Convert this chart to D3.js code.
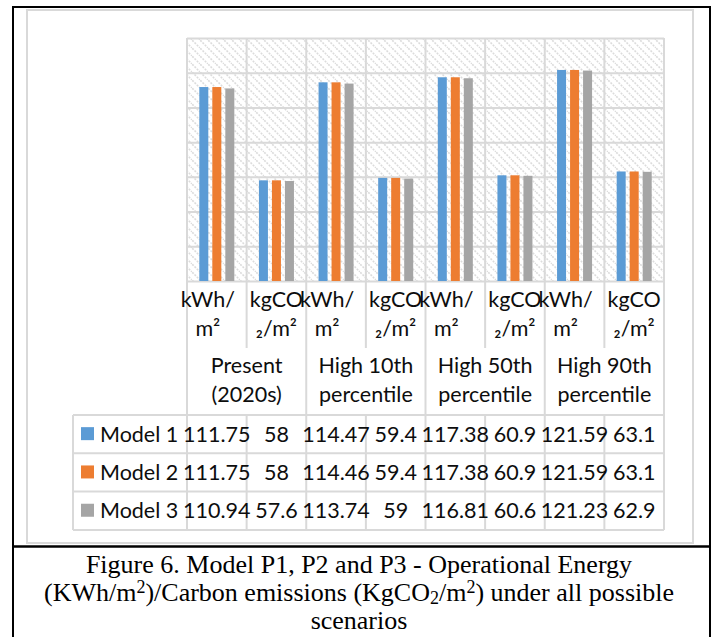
<!DOCTYPE html>
<html>
<head>
<meta charset="utf-8">
<script src="https://cdn.jsdelivr.net/npm/d3@7"></script>
<style>
  html, body { margin: 0; padding: 0; background: #fff; }
  svg { display: block; }
  .lbl { font-family: Lato, "Open Sans", sans-serif; font-size: 21.5px; fill: #0d0d0d; }
  .cap { font-family: "Liberation Serif", "Times New Roman", serif; font-size: 26px; fill: #000; }
</style>
</head>
<body>
<svg id="chart" width="715" height="637"></svg>
<script>
// ---- data ----
const scenarios = ["Present (2020s)", "High 10th percentile", "High 50th percentile", "High 90th percentile"];
const scenarioLines = [["Present", "(2020s)"], ["High 10th", "percentile"], ["High 50th", "percentile"], ["High 90th", "percentile"]];
const units = ["kWh/m²", "kgCO₂/m²"];
const unitLines = [["kWh/", "m²"], ["kgCO", "₂/m²"]];
const models = ["Model 1", "Model 2", "Model 3"];
const model1 = [111.75, 58, 114.47, 59.4, 117.38, 60.9, 121.59, 63.1];
const model2 = [111.75, 58, 114.46, 59.4, 117.38, 60.9, 121.59, 63.1];
const model3 = [110.94, 57.6, 113.74, 59, 116.81, 60.6, 121.23, 62.9];
const yTicks = [0, 20, 40, 60, 80, 100, 120, 140];
const colors = ["#5B9BD5", "#ED7D31", "#A5A5A5"];

const series = [model1, model2, model3];
const columns = [];
scenarios.forEach((s, si) => units.forEach((u, ui) => columns.push({ key: s + "|" + u, si, ui })));

// ---- layout ----
const svg = d3.select("#chart");
const plot = { left: 187, right: 664, top: 38, bottom: 281 };
const unitRowBottom = 348;
const tableTop = 415, rowH = 38.3;
const tableBottom = tableTop + rowH * 3;
const tableLeft = 73;
const gridColor = "#d9d9d9";

const x = d3.scaleBand().domain(columns.map(c => c.key)).range([plot.left, plot.right]).padding(0);
const xi = d3.scaleBand().domain(models).range([0, x.bandwidth()]).paddingInner(4 / 13).paddingOuter(0.946);
const y = d3.scaleLinear().domain([0, 140]).range([plot.bottom, plot.top]);

// hatch fill of the plot area
const defs = svg.append("defs");
const pat = defs.append("pattern").attr("id", "hatch").attr("patternUnits", "userSpaceOnUse")
  .attr("width", 8).attr("height", 8);
pat.append("rect").attr("width", 8).attr("height", 8).attr("fill", "#fff");
pat.append("path").attr("d", "M-2,-2L10,10M-2,6L2,10M6,-2L10,2")
  .attr("stroke", "#dcdcdc").attr("stroke-width", 1.6).attr("stroke-dasharray", "2,1.2");

// outer frame and chart border
svg.append("rect").attr("x", 13).attr("y", 7).attr("width", 697).attr("height", 640)
  .attr("fill", "none").attr("stroke", "#000").attr("stroke-width", 2);
svg.append("rect").attr("x", 27).attr("y", 10).attr("width", 666).attr("height", 533)
  .attr("fill", "#fff").attr("stroke", gridColor).attr("stroke-width", 2);
svg.append("line").attr("x1", 13).attr("x2", 710).attr("y1", 546.5).attr("y2", 546.5)
  .attr("stroke", "#000").attr("stroke-width", 2.5);

svg.append("rect").attr("x", plot.left).attr("y", plot.top)
  .attr("width", plot.right - plot.left).attr("height", plot.bottom - plot.top)
  .attr("fill", "url(#hatch)");

// horizontal gridlines
const yAxis = d3.axisLeft(y).tickValues(yTicks).tickSize(-(plot.right - plot.left)).tickFormat("");
const gy = svg.append("g").attr("transform", `translate(${plot.left},0)`).call(yAxis);
gy.select(".domain").remove();
gy.selectAll("line").attr("stroke", gridColor).attr("stroke-width", 2);

// vertical column boundaries (plot, category axis and data table)
const bounds = columns.map(c => x(c.key)).concat([plot.right]);
bounds.forEach((bx, i) => {
  const major = i % 2 === 0;
  svg.append("line").attr("x1", bx).attr("x2", bx).attr("y1", plot.top)
    .attr("y2", major ? tableBottom : unitRowBottom)
    .attr("stroke", gridColor).attr("stroke-width", 2);
  if (!major) {
    svg.append("line").attr("x1", bx).attr("x2", bx).attr("y1", tableTop).attr("y2", tableBottom)
      .attr("stroke", gridColor).attr("stroke-width", 2);
  }
});

// data table frame
svg.append("line").attr("x1", tableLeft).attr("x2", tableLeft).attr("y1", tableTop).attr("y2", tableBottom)
  .attr("stroke", gridColor).attr("stroke-width", 2);
d3.range(4).forEach(r => {
  svg.append("line").attr("x1", tableLeft).attr("x2", plot.right)
    .attr("y1", tableTop + r * rowH).attr("y2", tableTop + r * rowH)
    .attr("stroke", gridColor).attr("stroke-width", 2);
});

// bars
series.forEach((vals, mi) => {
  svg.append("g").selectAll("rect").data(columns).join("rect")
    .attr("x", (c) => x(c.key) + xi(models[mi]))
    .attr("width", xi.bandwidth())
    .attr("y", (c, i) => y(vals[i]))
    .attr("height", (c, i) => y(0) - y(vals[i]))
    .attr("fill", colors[mi]);
});

// unit labels
columns.forEach(c => {
  const cx = x(c.key) + x.bandwidth() / 2 + (c.ui === 0 ? -9 : 0);
  unitLines[c.ui].forEach((t, li) => {
    svg.append("text").attr("class", "lbl").attr("x", cx).attr("y", 307 + li * 28.5)
      .attr("text-anchor", "middle").text(t);
  });
});

// scenario labels
scenarios.forEach((s, si) => {
  const cx = x(columns[si * 2].key) + x.bandwidth();
  scenarioLines[si].forEach((t, li) => {
    svg.append("text").attr("class", "lbl").attr("x", cx).attr("y", 373 + li * 29)
      .attr("text-anchor", "middle").text(t);
  });
});

// data table rows
series.forEach((vals, mi) => {
  const cy = tableTop + rowH * mi + rowH / 2;
  svg.append("rect").attr("x", 81).attr("y", cy - 7).attr("width", 13).attr("height", 13).attr("fill", colors[mi]);
  svg.append("text").attr("class", "lbl").attr("x", 100).attr("y", cy + 7.5).text(models[mi]);
  columns.forEach((c, i) => {
    svg.append("text").attr("class", "lbl").attr("x", x(c.key) + x.bandwidth() / 2).attr("y", cy + 7.5)
      .attr("text-anchor", "middle").text(vals[i]);
  });
});

// caption
const capX = 359;
svg.append("text").attr("class", "cap").attr("x", capX).attr("y", 573).attr("text-anchor", "middle")
  .text("Figure 6. Model P1, P2 and P3 - Operational Energy");
const l2 = svg.append("text").attr("class", "cap").attr("x", capX).attr("y", 601).attr("text-anchor", "middle");
[["(KWh/m", 0], ["2", 1], [")/Carbon emissions (KgCO", 0], ["2", -1], ["/m", 0], ["2", 1], [") under all possible", 0]]
  .forEach(([t, s]) => {
    const ts = l2.append("tspan").text(t);
    if (s !== 0) ts.attr("font-size", 18).attr("baseline-shift", s > 0 ? 8 : -3);
  });
svg.append("text").attr("class", "cap").attr("x", capX).attr("y", 629).attr("text-anchor", "middle")
  .text("scenarios");
</script>
</body>
</html>
